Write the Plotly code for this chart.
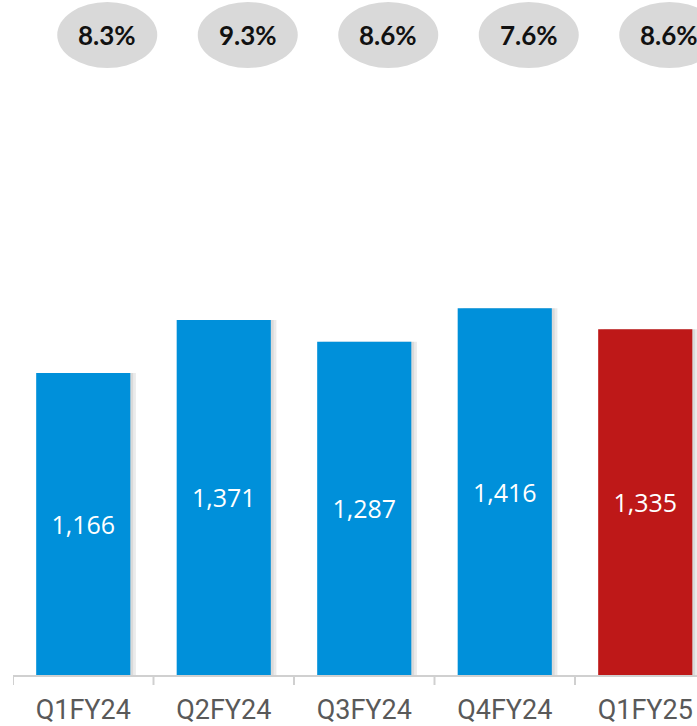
import plotly.graph_objects as go

categories = ["Q1FY24", "Q2FY24", "Q3FY24", "Q4FY24", "Q1FY25"]
values = [1166, 1371, 1287, 1416, 1335]
margins = ["8.3%", "9.3%", "8.6%", "7.6%", "8.6%"]
colors = ["#0090DA", "#0090DA", "#0090DA", "#0090DA", "#BE1818"]

W, H = 697, 726
left, bottom = 13, 51
plot_w = W - left
cat_px = 140.5
x_end = -0.5 + plot_w / cat_px

fig = go.Figure()
# soft shadow
fig.add_trace(go.Bar(
    x=list(range(len(categories))), y=values, width=0.67,
    offset=-0.335 + 0.04, marker=dict(color="rgba(0,0,0,0.08)", line=dict(width=0)),
    hoverinfo="skip", showlegend=False,
))
fig.add_trace(go.Bar(
    x=list(range(len(categories))), y=values, width=0.67,
    offset=-0.335 + 0.02, marker=dict(color="rgba(0,0,0,0.07)", line=dict(width=0)),
    hoverinfo="skip", showlegend=False,
))
fig.add_trace(go.Bar(
    x=list(range(len(categories))), y=values, width=0.67, offset=-0.335,
    marker=dict(color=colors, line=dict(width=0)),
    text=[f"{v:,}" for v in values], textposition="inside",
    insidetextanchor="middle",
    textfont=dict(family="Open Sans", size=25, color="white"),
    showlegend=False,
))

# ellipse badges
off = 24 / cat_px
ew = 100 / cat_px
plot_h = H - bottom
for i, m in enumerate(margins):
    cx = i + off
    fig.add_shape(type="circle", xref="x", yref="paper",
                  x0=cx - ew / 2, x1=cx + ew / 2,
                  y0=1 - 68 / plot_h, y1=1 - 2 / plot_h,
                  fillcolor="#D9D9D9", line=dict(width=0), layer="above")
    fig.add_annotation(x=cx, y=1 - 35 / plot_h, xref="x", yref="paper",
                       text=f"<b>{m}</b>", showarrow=False, yanchor="middle",
                       font=dict(family="Lato", size=26, color="#111111"))

fig.update_layout(
    width=W, height=H,
    margin=dict(l=left, r=0, t=0, b=bottom, autoexpand=False),
    paper_bgcolor="white", plot_bgcolor="white",
    barmode="overlay",
    xaxis=dict(
        range=[-0.5, x_end], tickmode="array",
        tickvals=list(range(len(categories))), ticktext=categories,
        showgrid=False, zeroline=False, automargin=False,
        showline=True, linecolor="#D0D0D0", linewidth=2,
        ticks="", ticklabelstandoff=10,
        tickfont=dict(family="Roboto", size=27, color="#595959"),
    ),
    yaxis=dict(range=[0, 675 / 0.259], visible=False, showgrid=False,
               automargin=False),
)
# boundary ticks
for i in range(len(categories)):
    fig.add_shape(type="line", xref="x", yref="paper",
                  x0=i - 0.5, x1=i - 0.5, y0=0, y1=-10 / plot_h,
                  line=dict(color="#D0D0D0", width=2))

fig.write_html("out.html", config={"displayModeBar": False},
               post_script="document.body.style.margin='0';document.body.style.overflow='hidden';")
